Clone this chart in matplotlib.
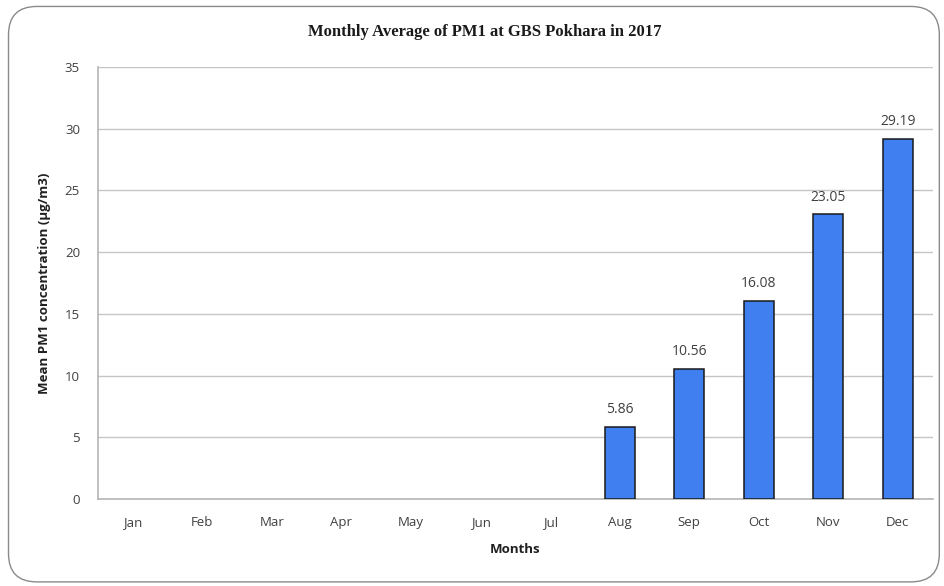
import matplotlib.pyplot as plt
from matplotlib.patches import FancyBboxPatch

months = ['Jan', 'Feb', 'Mar', 'Apr', 'May', 'Jun',
          'Jul', 'Aug', 'Sep', 'Oct', 'Nov', 'Dec']
pm1_mean = [None, None, None, None, None, None, None,
            5.86, 10.56, 16.08, 23.05, 29.19]
y_ticks = [0, 5, 10, 15, 20, 25, 30, 35]

fig = plt.figure(figsize=(9.45, 5.86), dpi=100)
ax = fig.add_axes([0.1037, 0.1485, 0.8833, 0.7372])

# rounded chart border
border = FancyBboxPatch((0.009, 0.007), 0.985, 0.982,
                        boxstyle='round,pad=0,rounding_size=0.03',
                        transform=fig.transFigure, facecolor='none',
                        edgecolor='#8a8a8a', linewidth=1.0,
                        mutation_aspect=945 / 586)
fig.patches.append(border)

xs = list(range(len(months)))
# only months with data get a bar
bar_x = [x for x, v in zip(xs, pm1_mean) if v is not None]
bar_v = [v for v in pm1_mean if v is not None]
ax.bar(bar_x, bar_v, width=0.43, color='#3F7FEF',
       edgecolor='#1a1a1a', linewidth=1.1, zorder=3)

for x, v in zip(bar_x, bar_v):
    ax.text(x, v + 0.8, f'{v:.2f}', ha='center', va='bottom',
            fontsize=10, color='#404040', family='Open Sans')

ax.set_xlim(-0.5, 11.5)
ax.set_ylim(0, 35)
ax.set_yticks(y_ticks)
ax.set_xticks(xs)
ax.set_xticklabels(months)
ax.tick_params(length=0, labelsize=9.5, colors='#404040')
ax.tick_params(axis='x', pad=12)
ax.tick_params(axis='y', pad=13)
for lab in ax.get_xticklabels() + ax.get_yticklabels():
    lab.set_family('Open Sans')

ax.grid(axis='y', color='#c6c6c6', linewidth=1.0, zorder=0)
for s in ['top', 'right']:
    ax.spines[s].set_visible(False)
for s in ['left', 'bottom']:
    ax.spines[s].set_color('#b5b5b5')
    ax.spines[s].set_linewidth(1.2)

ax.set_xlabel('Months', fontsize=9.5, fontweight='bold', color='#202020',
              family='Open Sans', labelpad=10)
ax.set_ylabel('Mean PM1 concentration (\u00b5g/m3)', fontsize=9.5,
              fontweight='bold', color='#202020', family='Open Sans',
              labelpad=10)
fig.text(0.513, 0.945, 'Monthly Average of PM1 at GBS Pokhara in 2017',
         ha='center', va='center', fontsize=12, fontweight='bold',
         family='Liberation Serif', color='#1a1a1a')

fig.savefig('out.png', dpi=100)
